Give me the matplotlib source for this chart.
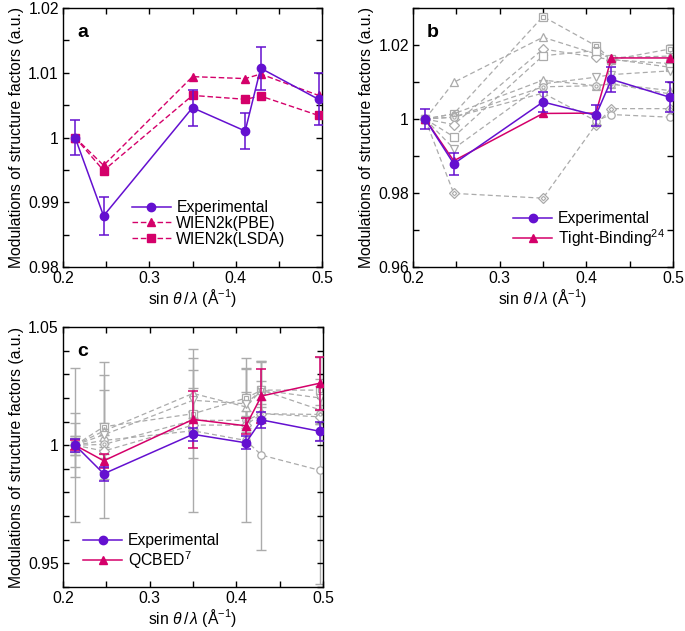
import matplotlib
matplotlib.use("Agg")
import matplotlib.pyplot as plt
from matplotlib.ticker import MultipleLocator, FuncFormatter
from matplotlib.lines import Line2D

plt.rcParams['font.family'] = ['Liberation Sans', 'DejaVu Sans']
plt.rcParams['mathtext.fontset'] = 'custom'
plt.rcParams['mathtext.rm'] = 'Liberation Sans'
plt.rcParams['mathtext.it'] = 'Liberation Sans:italic'
plt.rcParams['mathtext.bf'] = 'Liberation Sans:bold'

# ---------------- data ----------------
x_vals = [0.214, 0.247, 0.350, 0.411, 0.429, 0.496]

exp_y = [1.0, 0.9879, 1.0046, 1.0010, 1.0107, 1.0059]
exp_err = [0.0027, 0.0029, 0.0028, 0.0028, 0.0033, 0.0040]

pbe_y = [1.0, 0.9957, 1.0094, 1.0091, 1.0098, 1.0065]
lsda_y = [1.0, 0.9949, 1.0065, 1.0059, 1.0064, 1.0034]

tb_y = [1.0, 0.9887, 1.0015, 1.0016, 1.0165, 1.0165]

# panel b grey comparison series (marker, inner dot, values)
b_markers = ['s', '^', 'D', 's', 'v', '^', 'o', 'D', 'o']
b_inner = [True, False, False, False, False, False, True, True, False]
b_g1 = [1.0, 1.0014, 1.0277, 1.0198, 1.0160, 1.0189]
b_g2 = [1.0, 1.0099, 1.0221, 1.0176, 1.0166, 1.0170]
b_g3 = [1.0, 0.9985, 1.0189, 1.0167, 1.0160, 1.0150]
b_g4 = [1.0, 0.9952, 1.0171, 1.0185, 1.0162, 1.0140]
b_g5 = [1.0, 0.9920, 1.0095, 1.0113, 1.0120, 1.0130]
b_g6 = [1.0, 1.0014, 1.0105, 1.0090, 1.0095, 1.0077]
b_g7 = [1.0, 1.0005, 1.0087, 1.0090, 1.0095, 1.0068]
b_g8 = [1.0, 0.9799, 0.9786, 0.9985, 1.0028, 1.0028]
b_g9 = [1.0, 1.0005, 1.0070, 0.9995, 1.0012, 1.0005]
b_series = [b_g1, b_g2, b_g3, b_g4, b_g5, b_g6, b_g7, b_g8, b_g9]

qcbed_y = [1.0, 0.9934, 1.0109, 1.0082, 1.0208, 1.0262]
qcbed_err = [0.0020, 0.0030, 0.0120, 0.0034, 0.0115, 0.0112]

# panel c grey comparison series
c_markers = ['o', 's', '^', 'v', 'o', 'D']
c_inner = [False, True, False, False, True, False]
c_g1 = [1.0, 1.0020, 1.0061, 1.0020, 0.9958, 0.9894]
c_g1_err = [0.0325, 0.0330, 0.0344, 0.0347, 0.0400, 0.0480]
c_g2 = [1.0, 1.0078, 1.0133, 1.0199, 1.0233, 1.0233]
c_g2_err = [0.0136, 0.0220, 0.0187, 0.0126, 0.0125, 0.0140]
c_g3 = [1.0, 1.0060, 1.0219, 1.0162, 1.0233, 1.0150]
c_g3_err = [0.0094, 0.0175, 0.0150, 0.0160, 0.0120, 0.0130]
c_g4 = [1.0, 1.0044, 1.0190, 1.0175, 1.0233, 1.0200]
c_g4_err = [0.0040, 0.0050, 0.0050, 0.0050, 0.0040, 0.0050]
c_g5 = [1.0, 1.0003, 1.0105, 1.0105, 1.0133, 1.0130]
c_g5_err = [0.0040, 0.0040, 0.0040, 0.0040, 0.0040, 0.0040]
c_g6 = [1.0, 0.9975, 1.0085, 1.0085, 1.0133, 1.0120]
c_g6_err = [0.0030, 0.0030, 0.0030, 0.0030, 0.0030, 0.0030]
c_series = [c_g1, c_g2, c_g3, c_g4, c_g5, c_g6]
c_errs = [c_g1_err, c_g2_err, c_g3_err, c_g4_err, c_g5_err, c_g6_err]

# ---------------- style ----------------
PURPLE = '#6410d0'
MAGENTA = '#d4006a'
GREY = '#ababab'
FS = 11.3

fig = plt.figure(figsize=(6.85, 6.31), dpi=100)
W, H = 685.0, 631.0


def make_ax(l, t, r, b):
    return fig.add_axes([l / W, 1 - b / H, (r - l) / W, (b - t) / H])


def fmt(v, p):
    return '%g' % round(v, 4)


def style(ax, ylim, ymaj, ymin, label):
    ax.set_xlim(0.2, 0.5)
    ax.set_ylim(*ylim)
    ax.xaxis.set_major_locator(MultipleLocator(0.1))
    ax.xaxis.set_minor_locator(MultipleLocator(0.05))
    ax.yaxis.set_major_locator(MultipleLocator(ymaj))
    ax.yaxis.set_minor_locator(MultipleLocator(ymin))
    ax.xaxis.set_major_formatter(FuncFormatter(fmt))
    ax.yaxis.set_major_formatter(FuncFormatter(fmt))
    ax.tick_params(which='both', direction='in', top=True, right=True,
                   labelsize=FS, width=1.0)
    ax.tick_params(which='major', length=4.5, pad=3)
    ax.tick_params(which='minor', length=4.5)
    for s in ax.spines.values():
        s.set_linewidth(1.0)
    ax.set_xlabel(r'sin $\theta\,/\,\lambda$ (Å$^{\mathregular{-1}}$)', fontsize=FS, labelpad=0.5)
    ax.set_ylabel('Modulations of structure factors (a.u.)', fontsize=FS, labelpad=3)
    ax.text(0.077, 0.907, label, transform=ax.transAxes, fontsize=14,
            fontweight='bold', ha='center', va='center')


def grey_series(ax, ys, marker, inner, err=None):
    if err is not None:
        ax.errorbar(x_vals, ys, yerr=err, fmt='none', ecolor=GREY,
                    elinewidth=1.0, capsize=3.6, capthick=1.0, zorder=1)
    ax.plot(x_vals, ys, ls=(0, (4, 2.5)), color=GREY, lw=0.9,
            marker=marker, ms=5.3, mfc='white', mec=GREY, mew=0.9, zorder=2)
    if inner:
        ax.plot(x_vals, ys, ls='none', marker=marker, ms=2.3,
                mfc='none', mec=GREY, mew=0.8, zorder=2.1)


def exp_series(ax):
    ax.errorbar(x_vals, exp_y, yerr=exp_err, color=PURPLE, lw=1.1,
                marker='o', ms=6, mfc=PURPLE, mec=PURPLE,
                elinewidth=1.1, capsize=3.6, capthick=1.1, zorder=5)


exp_handle = Line2D([], [], color=PURPLE, lw=1.1, marker='o', ms=6,
                    mfc=PURPLE, mec=PURPLE)


def legend(ax, handles, labels, anchor):
    ax.legend(handles, labels, loc='upper left', bbox_to_anchor=anchor,
              frameon=False, fontsize=FS, borderpad=0, borderaxespad=0,
              handlelength=2.5, handletextpad=0.35, labelspacing=0.05)


# ---------------- panel a ----------------
ax_a = make_ax(63, 8, 322, 267)
pbe_line, = ax_a.plot(x_vals, pbe_y, ls=(0, (4, 2)), color=MAGENTA, lw=1.0,
                      marker='^', ms=6.3, mfc=MAGENTA, mec=MAGENTA, zorder=3)
lsda_line, = ax_a.plot(x_vals, lsda_y, ls=(0, (4, 2)), color=MAGENTA, lw=1.0,
                       marker='s', ms=5.5, mfc=MAGENTA, mec=MAGENTA, zorder=3)
exp_series(ax_a)
style(ax_a, (0.98, 1.02), 0.01, 0.005, 'a')
legend(ax_a, [exp_handle, pbe_line, lsda_line],
       ['Experimental', 'WIEN2k(PBE)', 'WIEN2k(LSDA)'], (0.265, 0.258))

# ---------------- panel b ----------------
ax_b = make_ax(413, 8, 673, 267)
for ys, m, inn in zip(b_series, b_markers, b_inner):
    grey_series(ax_b, ys, m, inn)
tb_line, = ax_b.plot(x_vals, tb_y, color=MAGENTA, lw=1.1, marker='^', ms=6.3,
                     mfc=MAGENTA, mec=MAGENTA, zorder=4)
exp_series(ax_b)
style(ax_b, (0.96, 1.03), 0.02, 0.01, 'b')
legend(ax_b, [exp_handle, tb_line],
       ['Experimental', 'Tight-Binding$^{\\mathregular{24}}$'], (0.385, 0.215))

# ---------------- panel c ----------------
ax_c = make_ax(63, 327, 323, 587)
for ys, m, inn, e in zip(c_series, c_markers, c_inner, c_errs):
    grey_series(ax_c, ys, m, inn, err=e)
ax_c.errorbar(x_vals, qcbed_y, yerr=qcbed_err, color=MAGENTA, lw=1.1,
              marker='^', ms=6.3, mfc=MAGENTA, mec=MAGENTA,
              elinewidth=1.1, capsize=3.6, capthick=1.1, zorder=4)
exp_series(ax_c)
style(ax_c, (0.94, 1.05), 0.05, 0.01, 'c')
qc_handle = Line2D([], [], color=MAGENTA, lw=1.1, marker='^', ms=6.3,
                   mfc=MAGENTA, mec=MAGENTA)
legend(ax_c, [exp_handle, qc_handle],
       ['Experimental', 'QCBED$^{\\mathregular{7}}$'], (0.077, 0.207))

fig.savefig('out.png', dpi=100)
